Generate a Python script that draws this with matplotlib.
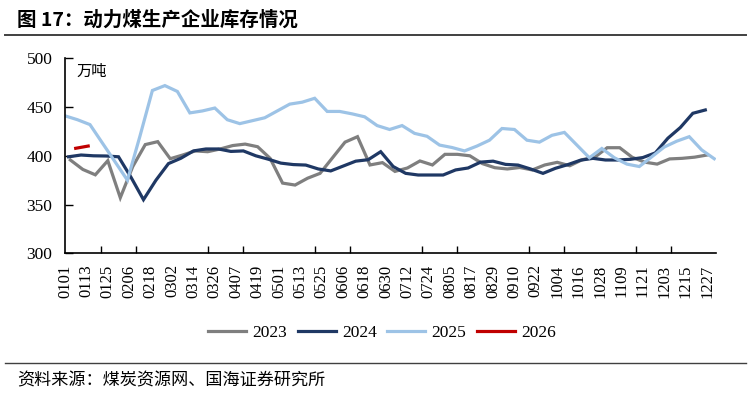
import numpy as np
import pandas as pd
import matplotlib
matplotlib.use("Agg")
import matplotlib.pyplot as plt
from matplotlib.lines import Line2D
from matplotlib.ticker import FixedLocator

# 周度库存（万吨）
start_2023 = "2023-01-04"
start_2024 = "2024-01-03"
start_2025 = "2025-01-01"
start_2026 = "2026-01-07"

v2023 = [395.7, 386, 380.5, 395, 357, 389, 411.5, 414.5, 397, 400.8, 405, 404.2, 407,
         410.5, 412, 409.3, 397.4, 372, 370, 377, 382, 398, 414, 419.6, 390.6, 393,
         384, 387.5, 394.7, 390.6, 401.5, 401.5, 400, 392, 387.8, 386.5, 388, 385.5,
         390.6, 393.3, 389.8, 396, 398.5, 408.3, 408.3, 398.5, 393.5, 391.5, 396.8,
         397.4, 398.6, 400.8]
v2024 = [399, 400.8, 400, 399.8, 399, 378, 355, 375, 392, 397.5, 405, 407, 407, 404.5,
         405, 400, 396.5, 392.5, 391, 390.5, 386.5, 384.5, 389.5, 394.5, 396, 404.2,
         389, 382, 380.3, 380.3, 380.3, 385.5, 387.5, 393.5, 394.5, 391.2, 390.5, 386.5,
         382, 387.2, 391, 395.5, 397.4, 395.7, 395.7, 396.4, 398.2, 403, 418, 429,
         443.6, 447]
v2025 = [441, 437, 432, 413, 394, 375, 420, 467, 472, 466, 444, 446, 449, 437, 433,
         436, 439, 446, 453, 455, 459, 445.5, 445.5, 443, 440, 431, 427, 431, 423, 420,
         411, 408.5, 405, 410, 416, 428, 427, 416, 414, 421, 424, 411, 398, 407.5, 398,
         391.5, 389, 399, 409, 415, 419.6, 406, 397]
v2026 = [407.7, 410]

tick_labels = ["0101", "0113", "0125", "0206", "0218", "0302", "0314", "0326", "0407",
               "0419", "0501", "0513", "0525", "0606", "0618", "0630", "0712", "0724",
               "0805", "0817", "0829", "0910", "0922", "1004", "1016", "1028", "1109",
               "1121", "1203", "1215", "1227"]


def day_offsets(start, n):
    d = pd.date_range(start, periods=n, freq="7D")
    return (d - pd.Timestamp(d[0].year, 1, 1)).days.values


series = [
    ("2023", start_2023, v2023, "#7f7f7f"),
    ("2024", start_2024, v2024, "#1f3864"),
    ("2025", start_2025, v2025, "#9dc3e6"),
    ("2026", start_2026, v2026, "#c00000"),
]

plt.rcParams["font.family"] = ["Liberation Serif", "Noto Sans CJK SC"]

fig = plt.figure(figsize=(7.51, 3.98), dpi=100)
ax = fig.add_axes([65 / 751, 1 - 253.3 / 398, 651 / 751, 195 / 398])

for name, start, vals, col in series:
    ax.plot(day_offsets(start, len(vals)), vals, color=col, lw=2.3, label=name,
            solid_joinstyle="miter")

ax.set_xlim(0, 365)
ax.set_ylim(300, 500)
ax.set_yticks([300, 350, 400, 450, 500])
ax.tick_params(axis="y", direction="in", length=6, width=1, pad=9, labelsize=12.5)

label_pos = [(pd.Timestamp("2023-" + s[:2] + "-" + s[2:]) - pd.Timestamp("2023-01-01")).days
             for s in tick_labels]
ax.xaxis.set_major_locator(FixedLocator(label_pos))
ax.set_xticklabels(tick_labels, rotation=90, family="Liberation Serif")
ax.xaxis.set_minor_locator(FixedLocator(np.arange(0, 361, 20)))
ax.tick_params(axis="x", which="major", length=0, pad=8, labelsize=12)
ax.tick_params(axis="x", which="minor", direction="in", length=5, width=1)

for s in ["top", "right"]:
    ax.spines[s].set_visible(False)
for s in ["left", "bottom"]:
    ax.spines[s].set_linewidth(1.2)

ax.text(0.018, 0.975, "万吨", transform=ax.transAxes, ha="left", va="top",
        fontsize=11, family=["Noto Sans CJK SC"])

leg = fig.legend(loc="center", bbox_to_anchor=(382 / 751, 1 - 333 / 398), ncol=4,
                 frameon=False, fontsize=12.5, handlelength=2.2, handletextpad=0.35,
                 columnspacing=0.6)

fig.text(17 / 751, 1 - 20 / 398, "图 17：动力煤生产企业库存情况", ha="left", va="center",
         fontsize=14, fontweight="bold", family=["Noto Sans CJK SC"])
fig.add_artist(Line2D([5 / 751, 746 / 751], [1 - 34.5 / 398] * 2, color="#404040", lw=1.4))
fig.add_artist(Line2D([5 / 751, 746 / 751], [1 - 363 / 398] * 2, color="#404040", lw=1.0))
fig.text(17 / 751, 1 - 380 / 398, "资料来源：煤炭资源网、国海证券研究所", ha="left",
         va="center", fontsize=12.3, family=["Noto Sans CJK SC"])

fig.savefig("out.png", dpi=100)
